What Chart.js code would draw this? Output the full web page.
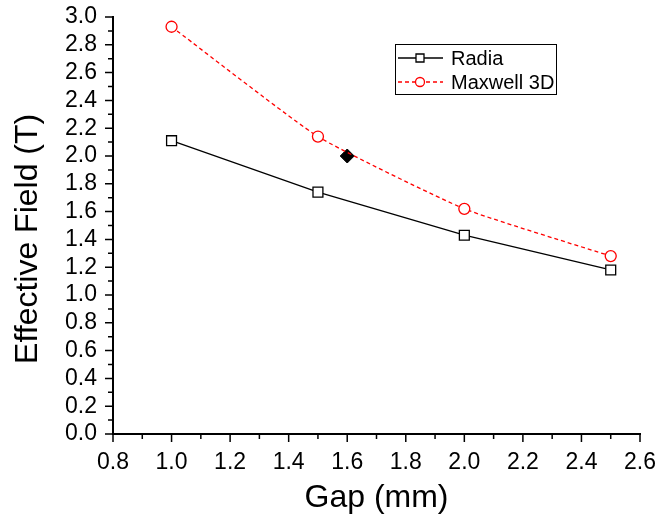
<!DOCTYPE html>
<html>
<head>
<meta charset="utf-8">
<script src="https://cdn.jsdelivr.net/npm/chart.js@4.4.1/dist/chart.umd.min.js"></script>
<style>
  html, body { margin: 0; padding: 0; background: #fff; }
  #wrap { width: 658px; height: 521px; }
</style>
</head>
<body>
<div id="wrap"><canvas id="chart" width="658" height="521"></canvas></div>
<script>
const gap = [1.0, 1.5, 2.0, 2.5];
const radia = [2.11, 1.74, 1.43, 1.18];
const maxwell = [2.93, 2.14, 1.62, 1.28];
const markerX = [1.6];
const markerY = [2.0];
const seriesNames = ['Radia', 'Maxwell 3D'];

const FONT = '"Liberation Sans", Arial, sans-serif';
Chart.defaults.font.family = FONT;
Chart.defaults.color = '#000';

const toPoints = (xs, ys) => xs.map((x, i) => ({x: x, y: ys[i]}));
const isMajor = v => Math.round(v * 10) % 2 === 0;

// major/minor tick marks, drawn outward like Origin does
const tickMarks = {
    id: 'tickMarks',
    afterDraw(chart) {
        const ctx = chart.ctx;
        const area = chart.chartArea;
        ctx.save();
        ctx.strokeStyle = '#000';
        ctx.lineWidth = 1.5;
        ctx.beginPath();
        chart.scales.x.ticks.forEach(t => {
            const p = chart.scales.x.getPixelForValue(t.value);
            const len = isMajor(t.value) ? 8 : 5;
            ctx.moveTo(p, area.bottom);
            ctx.lineTo(p, area.bottom + len);
        });
        chart.scales.y.ticks.forEach(t => {
            const p = chart.scales.y.getPixelForValue(t.value);
            const len = isMajor(t.value) ? 8 : 5;
            ctx.moveTo(area.left, p);
            ctx.lineTo(area.left - len, p);
        });
        ctx.stroke();
        ctx.restore();
    }
};

// boxed legend inside the plot
const boxLegend = {
    id: 'boxLegend',
    afterDraw(chart) {
        const ctx = chart.ctx;
        const x0 = 395, y0 = 44, w = 161, h = 50;
        ctx.save();
        ctx.strokeStyle = '#000';
        ctx.lineWidth = 1;
        ctx.strokeRect(x0 + 0.5, y0 + 0.5, w, h);
        [0, 1].forEach(i => {
            const ds = chart.data.datasets[i];
            const y = 58 + i * 24;
            ctx.strokeStyle = ds.borderColor;
            ctx.lineWidth = 1.3;
            ctx.setLineDash(ds.borderDash || []);
            ctx.beginPath();
            ctx.moveTo(398, y);
            ctx.lineTo(443, y);
            ctx.stroke();
            ctx.setLineDash([]);
            ctx.fillStyle = '#fff';
            ctx.beginPath();
            if (i === 0) {
                ctx.rect(416, y - 4, 8, 8);
            } else {
                ctx.arc(420, y, 4.5, 0, Math.PI * 2);
            }
            ctx.fill();
            ctx.stroke();
            ctx.fillStyle = '#000';
            ctx.font = '20px ' + FONT;
            ctx.textBaseline = 'middle';
            ctx.fillText(seriesNames[i], 451, y + 1);
        });
        ctx.restore();
    }
};

new Chart(document.getElementById('chart'), {
    type: 'scatter',
    data: {
        datasets: [{
            label: seriesNames[0],
            data: toPoints(gap, radia),
            showLine: true,
            borderColor: '#000',
            borderWidth: 1.3,
            pointStyle: 'rect',
            pointRadius: 7,
            pointBackgroundColor: '#fff',
            pointBorderColor: '#000',
            pointBorderWidth: 1.3
        }, {
            label: seriesNames[1],
            data: toPoints(gap, maxwell),
            showLine: true,
            borderColor: '#ff0000',
            borderWidth: 1.3,
            borderDash: [4, 3],
            tension: 0.15,
            pointStyle: 'circle',
            pointRadius: 5.5,
            pointBackgroundColor: '#fff',
            pointBorderColor: '#ff0000',
            pointBorderWidth: 1.3
        }, {
            label: 'marker',
            data: toPoints(markerX, markerY),
            showLine: false,
            pointStyle: 'rectRot',
            pointRadius: 7,
            pointBackgroundColor: '#000',
            pointBorderColor: '#000',
            pointBorderWidth: 1
        }]
    },
    options: {
        responsive: false,
        animation: false,
        layout: { padding: { top: 17, right: 18, left: 0, bottom: 0 } },
        plugins: {
            legend: { display: false },
            tooltip: { enabled: false }
        },
        scales: {
            x: {
                type: 'linear',
                min: 0.8,
                max: 2.6,
                afterFit: s => { s.height = 87; s.paddingLeft = 0; s.paddingRight = 0; },
                grid: { display: false, tickLength: 8 },
                border: { display: true, color: '#000', width: 2 },
                ticks: {
                    stepSize: 0.1,
                    autoSkip: false,
                    maxRotation: 0,
                    padding: 7,
                    font: { size: 23 },
                    callback: v => isMajor(v) ? v.toFixed(1) : ''
                },
                title: {
                    display: true,
                    text: 'Gap (mm)',
                    font: { size: 32, lineHeight: 1.2 },
                    padding: { top: 0, bottom: 4 }
                }
            },
            y: {
                type: 'linear',
                min: 0,
                max: 3.0,
                afterFit: s => { s.width = 113; s.paddingTop = 0; s.paddingBottom = 0; },
                grid: { display: false, tickLength: 8 },
                border: { display: true, color: '#000', width: 2 },
                ticks: {
                    stepSize: 0.1,
                    autoSkip: false,
                    padding: 8,
                    font: { size: 23 },
                    callback: v => isMajor(v) ? v.toFixed(1) : ''
                },
                title: {
                    display: true,
                    text: 'Effective Field (T)   ',
                    font: { size: 32, lineHeight: 1.2 },
                    padding: { top: 9, bottom: 0 }
                }
            }
        }
    },
    plugins: [tickMarks, boxLegend]
});
</script>
</body>
</html>
